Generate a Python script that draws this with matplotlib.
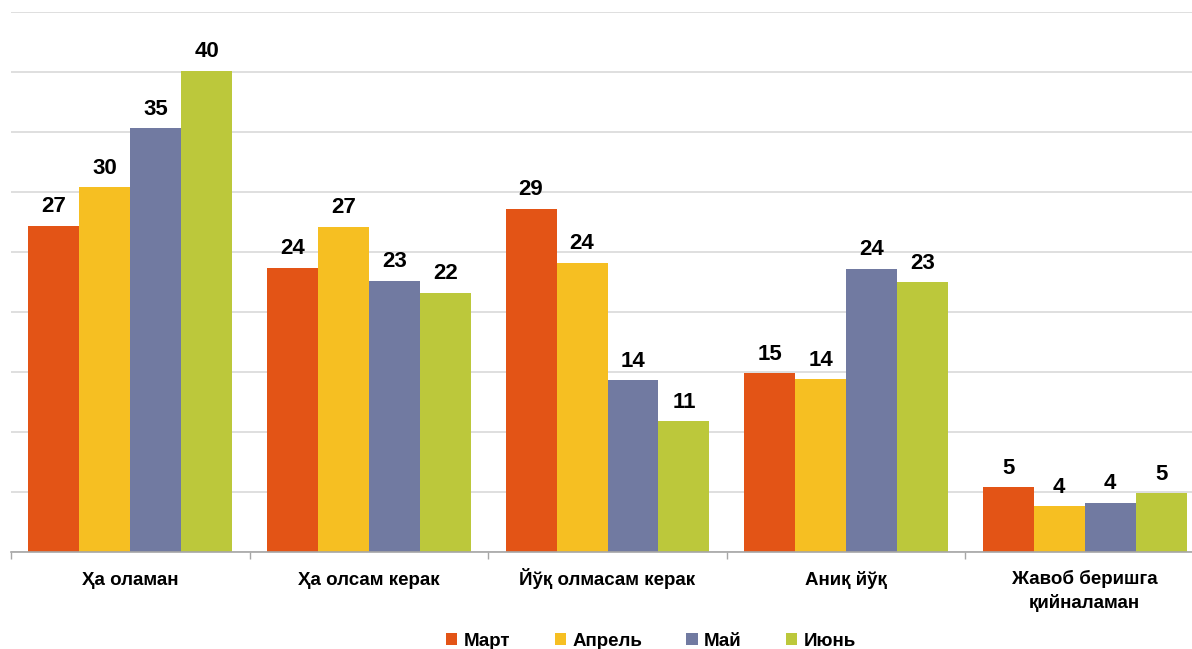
import matplotlib
matplotlib.use("Agg")
import matplotlib.pyplot as plt
import matplotlib.font_manager as fm
import numpy as np

categories = ["Ҳа оламан", "Ҳа олсам керак", "Йўқ олмасам керак", "Аниқ йўқ", "Жавоб беришга\nқийналаман"]
series_names = ["Март", "Апрель", "Май", "Июнь"]
mart = [27.2, 23.7, 28.6, 14.9, 5.4]
aprel = [30.4, 27.1, 24.1, 14.4, 3.8]
may = [35.3, 22.6, 14.3, 23.6, 4.1]
iyun = [40.1, 21.6, 10.9, 22.5, 4.9]
labels = [
    [27, 24, 29, 15, 5],
    [30, 27, 24, 14, 4],
    [35, 23, 14, 24, 4],
    [40, 22, 11, 23, 5],
]
colors = ["#E35416", "#F6BF22", "#717AA1", "#BCC83B"]

names = {f.name for f in fm.fontManager.ttflist}
fam = "Liberation Sans Narrow" if "Liberation Sans Narrow" in names else "Liberation Sans"
plt.rcParams['font.family'] = [fam, 'DejaVu Sans']

fig = plt.figure(figsize=(11.92, 6.49), dpi=100)
ax = fig.add_axes([11/1192, 97/649, (1204-11)/1192, 540/649])

data = [mart, aprel, may, iyun]
x = np.arange(len(categories))
bw = 0.2134
for i, (vals, c) in enumerate(zip(data, colors)):
    pos = x + (i - 1.5) * bw
    bars = ax.bar(pos, vals, width=bw, color=c, label=series_names[i], zorder=3)
    for b, lab in zip(bars, labels[i]):
        ax.annotate(str(lab), (b.get_x() + b.get_width() / 2, b.get_height()),
                    xytext=(0, 6), textcoords="offset points", ha="center", va="bottom",
                    fontsize=16, fontweight="bold", color="black")

ax.set_xlim(-0.5, len(categories) - 0.5)
ax.set_ylim(0, 45)
ax.set_yticks(np.arange(0, 46, 5))
ax.yaxis.grid(True, color="#D9D9D9", linewidth=1.2, zorder=0)
ax.tick_params(axis="y", left=False, labelleft=False)
ax.set_xticks(x)
ax.set_xticklabels([])
ax.tick_params(axis="x", which="major", length=0)
px2pt = 72 / 100
for xi, cat in zip(x, categories):
    n = cat.count("\n")
    off = -(33 + 23 * n) * px2pt
    ax.annotate(cat, (xi, 0), xycoords=("data", "axes fraction"),
                xytext=(0, off), textcoords="offset points",
                ha="center", va="baseline", multialignment="center",
                fontsize=13.5, fontweight="bold", linespacing=1.4, annotation_clip=False)
ax.set_xticks(np.arange(-0.5, len(categories), 1), minor=True)
ax.tick_params(axis="x", which="minor", length=5, color="#A6A6A6", width=1)
for s in ["top", "right", "left"]:
    ax.spines[s].set_visible(False)
ax.spines["bottom"].set_color("#A6A6A6")
ax.spines["bottom"].set_linewidth(1.2)
ax.spines["bottom"].set_zorder(4)

handles, lbls = ax.get_legend_handles_labels()
fig.legend(handles, lbls, loc="center", bbox_to_anchor=(651/1192, 1 - 641/649), ncol=4,
           frameon=False, prop={"size": 13.5, "weight": "bold"},
           handlelength=0.6, handleheight=0.6, handletextpad=0.35, columnspacing=2.35)

fig.savefig("out.png", dpi=100)
